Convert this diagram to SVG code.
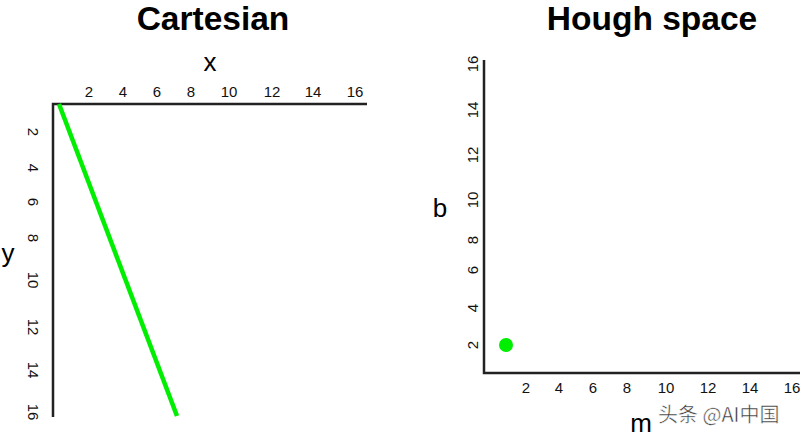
<svg xmlns="http://www.w3.org/2000/svg" width="800" height="437" viewBox="0 0 800 437">
<style>
.title{font-family:"Liberation Sans",Arial,sans-serif;font-weight:bold;font-size:33.5px;fill:#000;text-anchor:middle}
.tick{font-family:"Liberation Sans",Arial,sans-serif;font-size:15px;fill:#111;text-anchor:middle}
.lab{font-family:"Liberation Sans",Arial,sans-serif;font-size:26px;fill:#000;text-anchor:middle}
.axis{stroke:#222;stroke-width:2.5;fill:none}
.wm{font-family:"Noto Sans CJK SC","Liberation Sans",sans-serif;font-size:20px;fill:#333;stroke:#fff;stroke-width:0.5}
</style>
<rect width="800" height="437" fill="#fff"/>
<g id="cartesian">
<text class="title" x="213" y="30">Cartesian</text>
<path class="axis" d="M53,417 V104 H367"/>
<text class="lab" x="210" y="71">x</text>
<text class="lab" x="8" y="262">y</text>
<g class="tick">
<text x="89" y="97">2</text><text x="123" y="97">4</text><text x="157" y="97">6</text><text x="191" y="97">8</text>
<text x="229" y="97">10</text><text x="272" y="97">12</text><text x="313" y="97">14</text><text x="355" y="97">16</text>
</g>
<g class="tick">
<text transform="translate(28,132) rotate(90)">2</text>
<text transform="translate(28,168) rotate(90)">4</text>
<text transform="translate(28,202) rotate(90)">6</text>
<text transform="translate(28,238) rotate(90)">8</text>
<text transform="translate(28,280) rotate(90)">10</text>
<text transform="translate(28,327) rotate(90)">12</text>
<text transform="translate(28,370) rotate(90)">14</text>
<text transform="translate(28,412) rotate(90)">16</text>
</g>
<line x1="59" y1="104" x2="177" y2="416" stroke="#00ee00" stroke-width="4.5"/>
</g>
<g id="hough">
<text class="title" x="652" y="30">Hough space</text>
<path class="axis" d="M484,60 V373 H800"/>
<text class="lab" x="440" y="217">b</text>
<text class="lab" x="641" y="432">m</text>
<g class="tick">
<text x="526" y="393">2</text><text x="559" y="393">4</text><text x="593" y="393">6</text><text x="627" y="393">8</text>
<text x="666" y="393">10</text><text x="708" y="393">12</text><text x="750" y="393">14</text><text x="792" y="393">16</text>
</g>
<g class="tick">
<text transform="translate(478,64) rotate(-90)">16</text>
<text transform="translate(478,110) rotate(-90)">14</text>
<text transform="translate(478,155) rotate(-90)">12</text>
<text transform="translate(478,200) rotate(-90)">10</text>
<text transform="translate(478,240) rotate(-90)">8</text>
<text transform="translate(478,270) rotate(-90)">6</text>
<text transform="translate(478,308) rotate(-90)">4</text>
<text transform="translate(478,345) rotate(-90)">2</text>
</g>
<circle cx="506" cy="345" r="7" fill="#00ee00"/>
</g>
<text class="wm" x="658" y="422">头条 @AI中国</text>
</svg>
